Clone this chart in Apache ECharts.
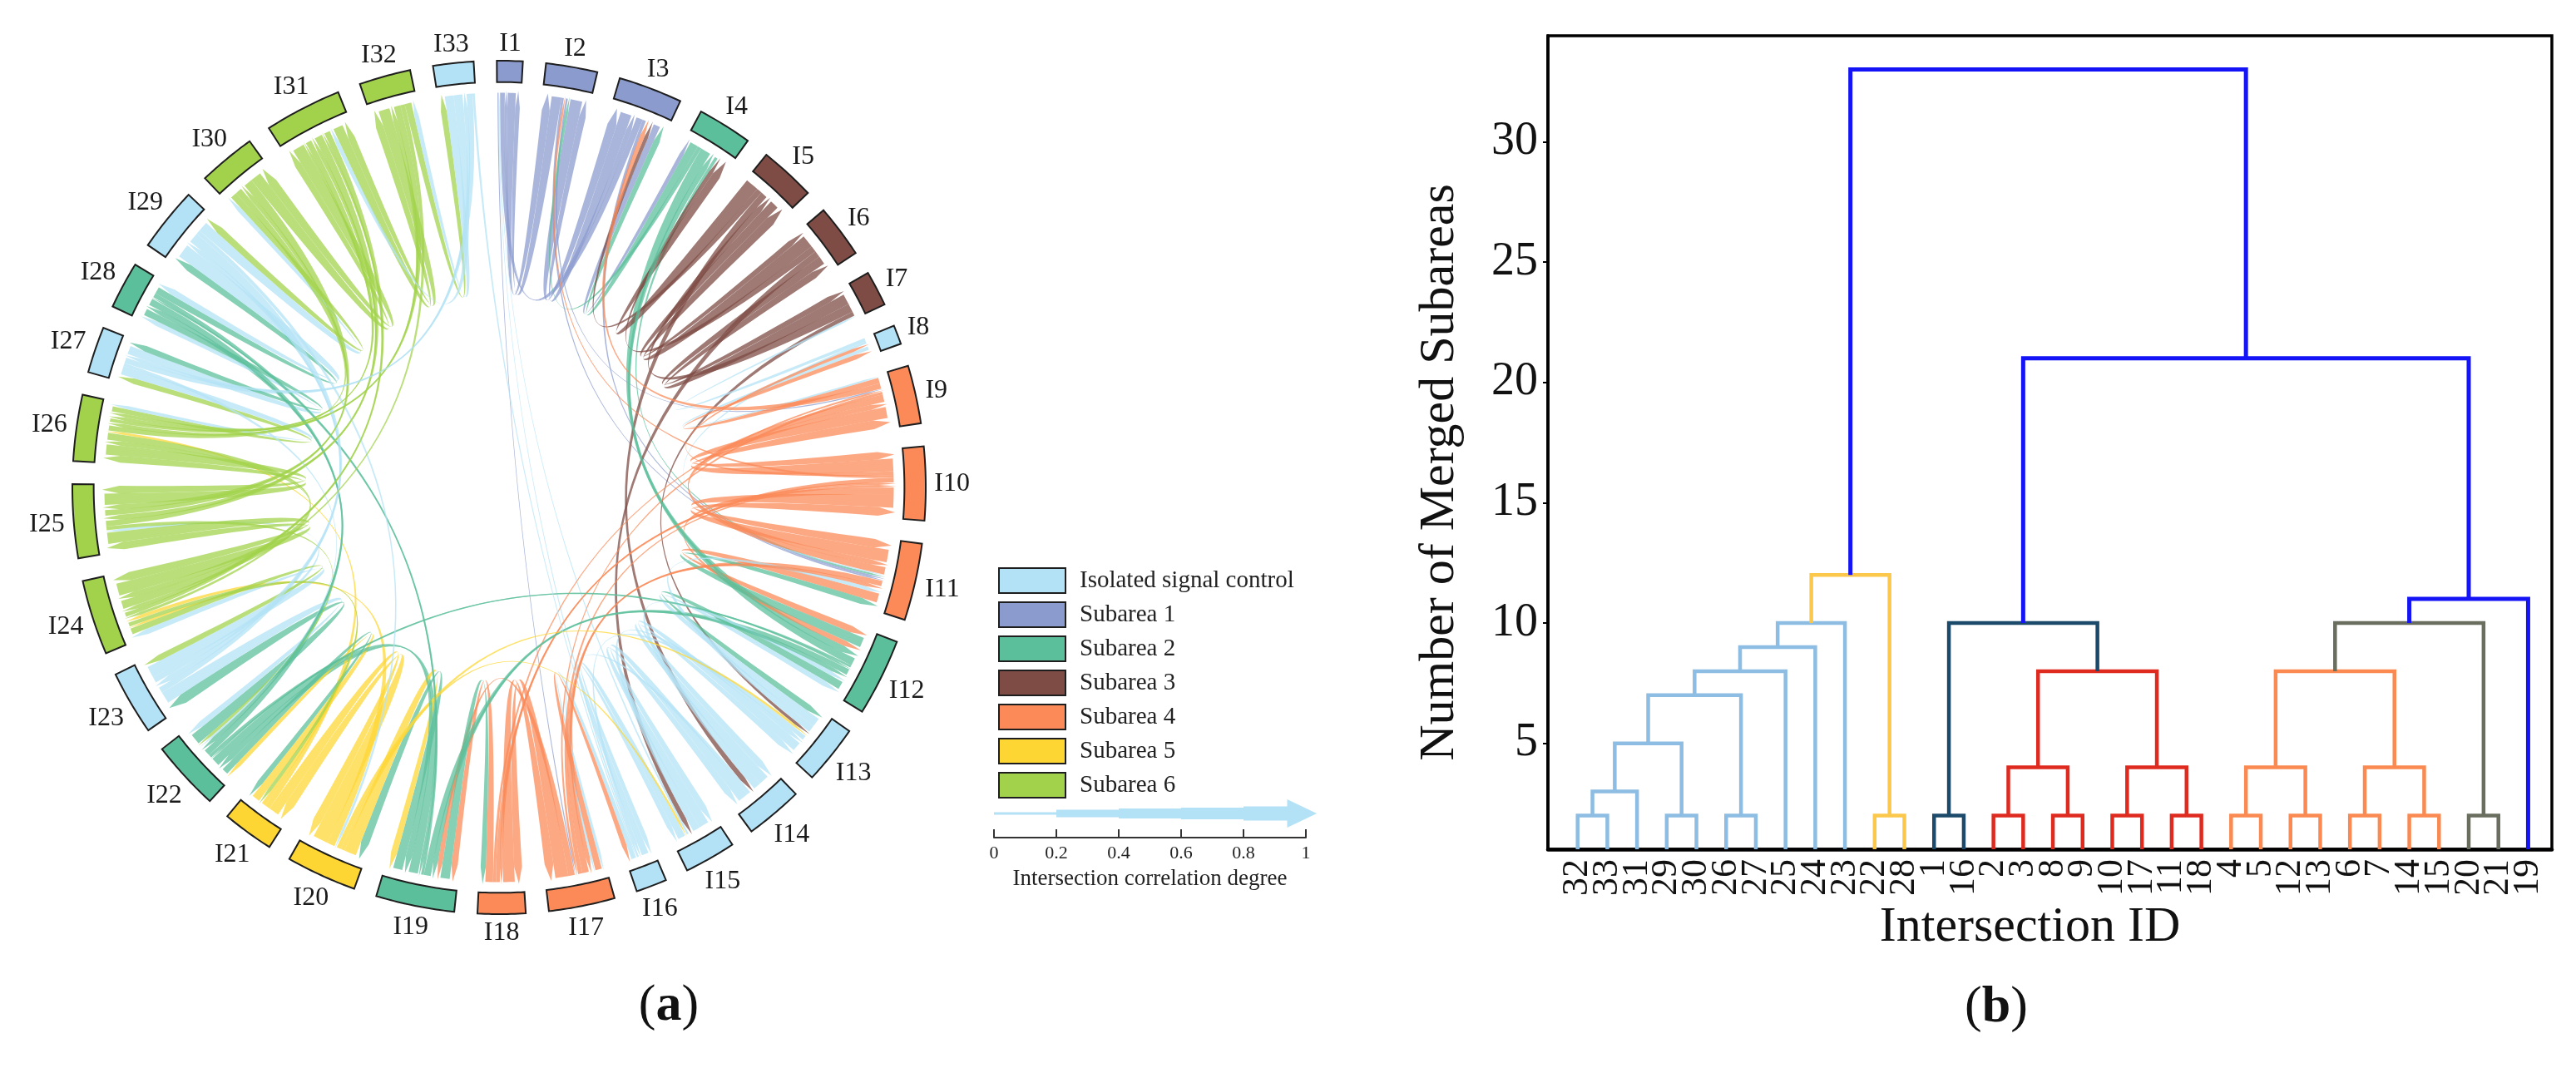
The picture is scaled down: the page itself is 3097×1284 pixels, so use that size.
<!DOCTYPE html>
<html>
<head>
<meta charset="utf-8">
<script src="https://cdn.jsdelivr.net/npm/echarts@6/dist/echarts.min.js"></script>
<style>
  html, body { margin: 0; padding: 0; background: #fff; }
  #main { width: 3097px; height: 1284px; }
</style>
</head>
<body>
<div id="main"></div>
<script>
// ---- (a) chord diagram data ----
var nodeNames = ['I1','I2','I3','I4','I5','I6','I7','I8','I9','I10','I11','I12','I13','I14','I15','I16','I17',
  'I18','I19','I20','I21','I22','I23','I24','I25','I26','I27','I28','I29','I30','I31','I32','I33'];
// 0 = isolated, 1..6 = subarea
var nodeGroup = [1,1,1,2,3,3,3,0,4,4,4,2,0,0,0,0,4,4,2,5,5,2,0,6,6,6,0,2,0,6,6,6,0];
// arc size of every intersection (degrees of the ring)
var nodeWeight = [3.5,7,8.7,7.4,7.6,7.2,4.8,2.6,7.9,10,10.5,10.5,8,7.8,7,4.2,9,6.5,10.7,9.6,7,9.5,8.7,10.2,10,9,6.3,6.4,8.7,7.8,10.5,7,5.5];
var groupNames = ['Isolated signal control','Subarea 1','Subarea 2','Subarea 3','Subarea 4','Subarea 5','Subarea 6'];
var groupColors = ['#b3e2f6','#8b9bce','#5cbf9b','#7e4c44','#fb8a58','#fdd634','#a2d24b'];
// [source, target, correlation degree]
var links = [
  [1,2,0.6],[1,3,0.35],[1,17,0.08],
  [2,1,0.5],[2,3,0.6],[2,11,0.12],[2,9,0.1],
  [3,2,0.5],[3,1,0.3],[3,4,0.3],[3,11,0.15],
  [4,12,0.5],[4,3,0.4],[4,2,0.2],[4,11,0.15],
  [5,4,0.6],[5,6,0.4],[5,3,0.25],[5,14,0.3],
  [6,5,0.6],[6,7,0.4],[6,4,0.3],[6,15,0.3],
  [7,6,0.5],[7,5,0.4],[7,13,0.2],
  [8,9,0.15],[8,7,0.15],[8,11,0.1],
  [9,10,0.6],[9,8,0.3],[9,11,0.4],[9,3,0.3],[9,17,0.15],
  [10,9,0.7],[10,11,0.7],[10,12,0.4],[10,8,0.2],[10,18,0.25],[10,2,0.15],
  [11,10,0.7],[11,12,0.5],[11,9,0.4],[11,17,0.3],
  [12,11,0.5],[12,13,0.4],[12,4,0.4],[12,19,0.3],[12,22,0.12],
  [13,12,0.4],[13,14,0.4],[13,11,0.3],[13,16,0.2],
  [14,13,0.4],[14,15,0.4],[14,12,0.3],[14,17,0.15],
  [15,14,0.4],[15,16,0.3],[15,13,0.3],[15,1,0.08],
  [16,15,0.3],[16,17,0.2],[16,1,0.08],
  [17,18,0.6],[17,16,0.3],[17,19,0.3],[17,11,0.3],[17,10,0.2],
  [18,17,0.6],[18,19,0.4],[18,9,0.15],[18,10,0.2],
  [19,18,0.4],[19,20,0.4],[19,22,0.4],[19,12,0.3],[19,28,0.12],
  [20,21,0.5],[20,19,0.4],[20,24,0.25],[20,13,0.15],[20,15,0.12],
  [21,20,0.4],[21,22,0.3],[21,26,0.2],[21,24,0.15],
  [22,23,0.5],[22,21,0.3],[22,19,0.4],[22,28,0.3],[22,12,0.15],
  [23,22,0.4],[23,24,0.4],[23,25,0.2],[23,29,0.2],
  [24,25,0.6],[24,26,0.4],[24,23,0.3],[24,21,0.2],[24,31,0.2],
  [25,24,0.6],[25,26,0.6],[25,30,0.3],[25,31,0.3],[25,22,0.2],
  [26,25,0.6],[26,27,0.3],[26,24,0.4],[26,32,0.3],[26,31,0.2],
  [27,28,0.3],[27,26,0.3],[27,33,0.2],[27,22,0.12],
  [28,27,0.3],[28,29,0.3],[28,22,0.3],[28,19,0.2],
  [29,28,0.4],[29,30,0.3],[29,23,0.3],[29,20,0.12],
  [30,31,0.5],[30,29,0.3],[30,25,0.4],[30,26,0.3],
  [31,30,0.6],[31,32,0.5],[31,25,0.4],[31,24,0.3],[31,26,0.3],
  [32,31,0.5],[32,33,0.3],[32,26,0.3],[32,24,0.2],
  [33,32,0.3],[33,31,0.3],[33,27,0.2],[33,16,0.08]
];
var scaleTicks = [0, 0.2, 0.4, 0.6, 0.8, 1];

// ---- (b) dendrogram data ----
var leafLabels = [32,33,31,29,30,26,27,25,24,23,22,28,1,16,2,3,8,9,10,17,11,18,4,5,12,13,6,7,14,15,20,21,19];
// [left child, right child, merge height, branch colour key]; 'cN' = N-th merge
var merges = [
  [32,33,2,'lb'], ['c1',31,3,'lb'], [29,30,2,'lb'], ['c2','c3',5,'lb'], [26,27,2,'lb'],
  ['c4','c5',7,'lb'], ['c6',25,8,'lb'], ['c7',24,9,'lb'], ['c8',23,10,'lb'],
  [22,28,2,'yl'], ['c9','c10',12,'yl'],
  [1,16,2,'nv'],
  [2,3,2,'rd'], [8,9,2,'rd'], ['c13','c14',4,'rd'], [10,17,2,'rd'], [11,18,2,'rd'],
  ['c16','c17',4,'rd'], ['c15','c18',8,'rd'],
  ['c12','c19',10,'nv'],
  [4,5,2,'or'], [12,13,2,'or'], ['c21','c22',4,'or'], [6,7,2,'or'], [14,15,2,'or'],
  ['c24','c25',4,'or'], ['c23','c26',8,'or'],
  [20,21,2,'gy'], ['c27','c28',10,'gy'],
  ['c29',19,11,'bl'], ['c20','c30',21,'bl'], ['c11','c31',33,'bl']
];
var yTicks = [5,10,15,20,25,30];

var branchColors = {lb:'#8dbde2', yl:'#fcc84c', nv:'#1b4a6a', rd:'#df2a20', or:'#fa8a52', gy:'#6a6e5e', bl:'#1414f6'};
var FONT = 'Liberation Serif';

// ---- chord layout (angles in degrees, clockwise from top) ----
var totalW = nodeWeight.reduce(function (s, w) { return s + w; }, 0);
var gapDeg = (360 - totalW) / nodeWeight.length;
var nodeStart = [], nodeEnd = [];
var acc = -0.3;
nodeWeight.forEach(function (w, i) {
  nodeStart[i] = acc; nodeEnd[i] = acc + w; acc += w + gapDeg;
});
function nodeMid(i) { return (nodeStart[i] + nodeEnd[i]) / 2; }

var ends = nodeNames.map(function () { return []; });
links.forEach(function (l, k) {
  ends[l[0] - 1].push({link: k, other: l[1] - 1, w: l[2], out: true});
  ends[l[1] - 1].push({link: k, other: l[0] - 1, w: l[2] * 0.7, out: false});
});
var linkGeo = links.map(function () { return {}; });
ends.forEach(function (list, i) {
  var sum = list.reduce(function (s, e) { return s + e.w; }, 0);
  var len = nodeEnd[i] - nodeStart[i];
  var a0 = nodeStart[i] + len * 0.02, span = len * 0.96;
  list.forEach(function (e) { e.rel = ((nodeMid(e.other) - nodeMid(i)) % 360 + 360) % 360; });
  list.sort(function (p, q) { return q.rel - p.rel; });
  list.forEach(function (e) {
    var d = e.w / sum * span, g = linkGeo[e.link];
    if (e.out) { g.s0 = a0; g.s1 = a0 + d; } else { g.t0 = a0; g.t1 = a0 + d; }
    a0 += d;
  });
});

function arcPts(api, r, a0, a1) {
  var n = Math.max(2, Math.ceil(Math.abs(a1 - a0) * 2)), pts = [];
  for (var k = 0; k <= n; k++) pts.push(api.coord([r, a0 + (a1 - a0) * k / n]));
  return pts;
}
function quadPts(p0, c, p2) {
  var pts = [], n = 40;
  for (var k = 1; k <= n; k++) {
    var t = k / n, u = 1 - t;
    pts.push([u * u * p0[0] + 2 * u * t * c[0] + t * t * p2[0],
              u * u * p0[1] + 2 * u * t * c[1] + t * t * p2[1]]);
  }
  return pts;
}

function renderRibbon(params, api) {
  var g = linkGeo[params.dataIndex];
  var src = links[params.dataIndex][0] - 1;
  var rS = 0.925, rSide = 0.89, rTip = 0.93;
  var C = api.coord([0, 0]);
  var pts = arcPts(api, rS, g.s0, g.s1);
  var S0 = pts[0], S1 = pts[pts.length - 1];
  var T0 = api.coord([rSide, g.t0]), T1 = api.coord([rSide, g.t1]);
  pts = pts.concat(quadPts(S1, C, T0));
  pts.push(api.coord([rTip, (g.t0 + g.t1) / 2]));
  pts.push(T1);
  pts = pts.concat(quadPts(T1, C, S0));
  return {
    type: 'polygon',
    shape: {points: pts},
    style: {fill: groupColors[nodeGroup[src]], opacity: 0.74}
  };
}

function renderSegment(params, api) {
  var i = api.value(0);
  var outer = arcPts(api, 1.0, nodeStart[i], nodeEnd[i]);
  var inner = arcPts(api, 0.95, nodeEnd[i], nodeStart[i]);
  var mid = nodeMid(i), th = mid * Math.PI / 180;
  var ux = Math.sin(th), uy = -Math.cos(th);
  var anchor = api.coord([1.02, mid]);
  var fs = 32, name = nodeNames[i];
  var w = fs * (0.333 + 0.5 * (name.length - 1)), h = fs * 0.7;
  var d = w / 2 * Math.abs(ux) + h / 2 * Math.abs(uy);
  return {
    type: 'group',
    children: [{
      type: 'polygon',
      shape: {points: outer.concat(inner)},
      style: {fill: groupColors[nodeGroup[i]], stroke: '#1e1e1e', lineWidth: 2}
    }, {
      type: 'text',
      x: anchor[0] + ux * d,
      y: anchor[1] + uy * d + 1,
      style: {
        text: name, fontSize: fs, fontFamily: FONT, fill: '#1a1a1a',
        align: 'center', verticalAlign: 'middle'
      }
    }]
  };
}

// ---- dendrogram geometry from the merge table ----
var leafX = {};
leafLabels.forEach(function (l, i) { leafX[l] = i + 1; });
var clusterX = [], clusterH = [];
function childPos(c) {
  if (typeof c === 'number') return [leafX[c], 0];
  var k = +c.slice(1) - 1;
  return [clusterX[k], clusterH[k]];
}
var dendroData = merges.map(function (m, i) {
  var a = childPos(m[0]), b = childPos(m[1]);
  clusterX[i] = (a[0] + b[0]) / 2; clusterH[i] = m[2];
  return [a[0], b[0], m[2], a[1], b[1]];
});

var series = [{
  type: 'custom',
  coordinateSystem: 'polar',
  silent: true,
  data: links,
  renderItem: renderRibbon,
  z: 1
}];
groupNames.forEach(function (gName, gi) {
  var items = [];
  nodeGroup.forEach(function (g, i) { if (g === gi) items.push([i]); });
  series.push({
    type: 'custom',
    name: gName,
    coordinateSystem: 'polar',
    silent: true,
    itemStyle: {color: groupColors[gi], borderColor: '#1e1e1e', borderWidth: 2},
    data: items,
    renderItem: renderSegment,
    z: 3
  });
});
series.push({
  type: 'custom',
  xAxisIndex: 0, yAxisIndex: 0,
  clip: true,
  silent: true,
  data: dendroData,
  encode: {x: [0, 1], y: 2},
  renderItem: function (params, api) {
    var key = merges[params.dataIndex][3];
    var pts = [
      api.coord([api.value(0), api.value(3)]),
      api.coord([api.value(0), api.value(2)]),
      api.coord([api.value(1), api.value(2)]),
      api.coord([api.value(1), api.value(4)])
    ];
    return {
      type: 'polyline',
      shape: {points: pts},
      style: {stroke: branchColors[key], lineWidth: key === 'bl' ? 5 : 4.5, fill: 'none'}
    };
  }
});
// width legend arrow for the correlation degree
series.push({
  type: 'custom',
  xAxisIndex: 1, yAxisIndex: 1,
  silent: true,
  data: [[0, 1]],
  renderItem: function (params, api) {
    var xs = [0, 0.2, 0.4, 0.6, 0.8, 0.94], half = [1.5, 4.5, 6, 7, 8.5];
    var yc = api.coord([0, 0.56])[1];
    var top = [], bot = [];
    for (var k = 0; k < half.length; k++) {
      var xa = api.coord([xs[k], 0])[0], xb = api.coord([xs[k + 1], 0])[0];
      top.push([xa, yc - half[k]], [xb, yc - half[k]]);
      bot.unshift([xb, yc + half[k]], [xa, yc + half[k]]);
    }
    var xh = api.coord([0.94, 0])[0], xt = api.coord([1.035, 0])[0];
    var pts = top.concat([[xh, yc - 17], [xt, yc], [xh, yc + 17]]).concat(bot);
    return {type: 'polygon', shape: {points: pts}, style: {fill: '#b3e2f6'}};
  }
});

var chart = echarts.init(document.getElementById('main'));
chart.setOption({
  animation: false,
  backgroundColor: '#fff',
  textStyle: {fontFamily: FONT},
  polar: {center: [600, 586], radius: 564.3},
  angleAxis: {type: 'value', min: 0, max: 360, startAngle: 90, clockwise: true, show: false},
  radiusAxis: {type: 'value', min: 0, max: 1.1, show: false},
  legend: {
    orient: 'vertical', left: 1195, top: 677,
    itemWidth: 80, itemHeight: 30, itemGap: 9,
    icon: 'rect', selectedMode: false,
    data: groupNames,
    itemStyle: {borderColor: '#1e1e1e', borderWidth: 2},
    textStyle: {fontFamily: FONT, fontSize: 29, lineHeight: 30, color: '#222', padding: [0, 0, 0, 12]}
  },
  grid: [{
    left: 1861, top: 43, right: 29, bottom: 263,
    show: true, borderColor: '#000', borderWidth: 3.5, containLabel: false
  }, {
    left: 1195, top: 955, width: 375, height: 52, containLabel: false
  }],
  xAxis: [{
    gridIndex: 0, type: 'value', min: 0, max: 33.8, interval: 1,
    axisLine: {show: true, lineStyle: {color: '#000', width: 4.5}},
    axisTick: {show: false},
    splitLine: {show: false},
    axisLabel: {
      rotate: 90, margin: 12, fontSize: 44, fontFamily: FONT, color: '#111',
      formatter: function (v) {
        return (Math.round(v) === v && v >= 1 && v <= leafLabels.length) ? String(leafLabels[v - 1]) : '';
      }
    },
    name: 'Intersection ID', nameLocation: 'middle', nameGap: 56,
    nameTextStyle: {fontSize: 60, fontFamily: FONT, color: '#111', padding: [0, 48, 0, 0]}
  }, {
    gridIndex: 1, type: 'value', min: 0, max: 1, interval: 0.2,
    axisLine: {show: true, lineStyle: {color: '#333', width: 2}},
    axisTick: {show: true, inside: true, length: 10, lineStyle: {color: '#333', width: 2}},
    splitLine: {show: false},
    axisLabel: {margin: 8, fontSize: 22, fontFamily: FONT, color: '#222', customValues: scaleTicks},
    name: 'Intersection correlation degree', nameLocation: 'middle', nameGap: 36,
    nameTextStyle: {fontSize: 27, fontFamily: FONT, color: '#222'}
  }],
  yAxis: [{
    gridIndex: 0, type: 'value', min: 0.6, max: 34.4,
    axisLine: {show: true, lineStyle: {color: '#000', width: 3.5}},
    axisTick: {show: true, length: 6, customValues: yTicks, lineStyle: {color: '#000', width: 2}},
    splitLine: {show: false},
    axisLabel: {margin: 12, fontSize: 56, fontFamily: FONT, color: '#111', customValues: yTicks},
    name: 'Number of Merged Subareas', nameLocation: 'middle', nameGap: 100,
    nameTextStyle: {fontSize: 60, fontFamily: FONT, color: '#111', padding: [0, 72, 0, 0]}
  }, {
    gridIndex: 1, type: 'value', min: 0, max: 1, show: false
  }],
  graphic: [{
    type: 'text', x: 804, y: 1210,
    style: {
      text: '{n|(}{b|a}{n|)}', align: 'center', verticalAlign: 'middle', fill: '#111',
      rich: {
        n: {fontSize: 62, fontFamily: FONT, fill: '#111'},
        b: {fontSize: 62, fontFamily: FONT, fontWeight: 'bold', fill: '#111'}
      }
    }
  }, {
    type: 'text', x: 2400, y: 1212,
    style: {
      text: '{n|(}{b|b}{n|)}', align: 'center', verticalAlign: 'middle', fill: '#111',
      rich: {
        n: {fontSize: 62, fontFamily: FONT, fill: '#111'},
        b: {fontSize: 62, fontFamily: FONT, fontWeight: 'bold', fill: '#111'}
      }
    }
  }],
  series: series
});
</script>
</body>
</html>
